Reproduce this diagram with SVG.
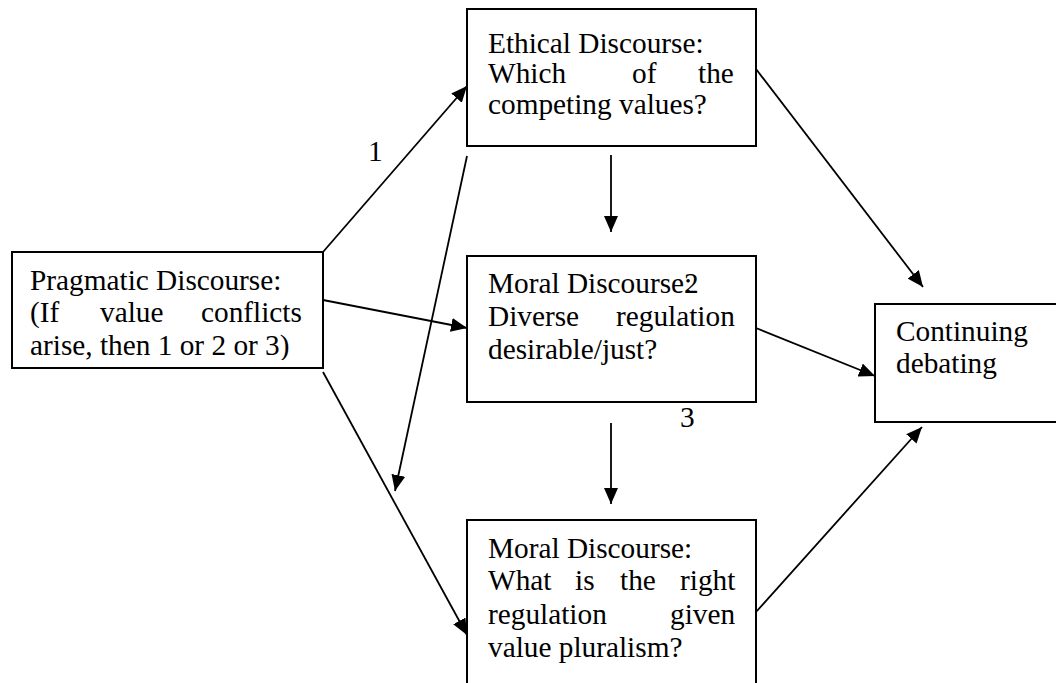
<svg xmlns="http://www.w3.org/2000/svg" width="1056" height="683" viewBox="0 0 1056 683">
<style>
.box{fill:#fff;stroke:#000;stroke-width:2}
.t{font-family:"Liberation Serif","Times New Roman",serif;font-size:29.3px;fill:#000}
.c line{stroke:#000;stroke-width:1.8;marker-end:url(#ah)}
</style>
<defs>
<marker id="ah" markerUnits="userSpaceOnUse" markerWidth="16" markerHeight="14" viewBox="0 0 16 14" refX="16" refY="7" orient="auto">
<path d="M0,0 L16,7 L0,14 z" fill="#000"/>
</marker>
<clipPath id="clipP"><rect x="12" y="252" width="311" height="108"/></clipPath>
</defs>
<rect width="1056" height="683" fill="#fff"/>
<g id="pragmatic">
<rect class="box" x="12" y="252" width="311" height="116"/>
<g clip-path="url(#clipP)">
<text class="t" x="30" y="290">Pragmatic Discourse:</text>
<text class="t" y="322"><tspan x="30">(If</tspan><tspan x="100">value</tspan><tspan x="201">conflicts</tspan></text>
<text class="t" x="30" y="355">arise, then 1 or 2 or 3)</text>
</g>
</g>
<g id="ethical">
<rect class="box" x="467" y="9" width="289" height="137"/>
<text class="t" x="488" y="53">Ethical Discourse:</text>
<text class="t" y="83"><tspan x="488">Which</tspan><tspan x="632">of</tspan><tspan x="698">the</tspan></text>
<text class="t" x="488" y="114">competing values?</text>
</g>
<g id="moral1">
<rect class="box" x="467" y="256" width="289" height="146"/>
<text class="t" x="488" y="293">Moral Discourse:</text>
<text class="t" y="326"><tspan x="488">Diverse</tspan><tspan x="616">regulation</tspan></text>
<text class="t" x="488" y="359">desirable/just?</text>
</g>
<g id="moral2">
<rect class="box" x="467" y="520" width="289" height="200"/>
<text class="t" x="488" y="558">Moral Discourse:</text>
<text class="t" y="590"><tspan x="488">What</tspan><tspan x="575">is</tspan><tspan x="620">the</tspan><tspan x="680">right</tspan></text>
<text class="t" y="624"><tspan x="488">regulation</tspan><tspan x="670">given</tspan></text>
<text class="t" x="488" y="657">value pluralism?</text>
</g>
<g id="continuing">
<rect class="box" x="875" y="304" width="200" height="118"/>
<text class="t" x="896" y="341">Continuing</text>
<text class="t" x="896" y="373">debating</text>
</g>
<g id="labels">
<text class="t" x="368" y="161">1</text>
<text class="t" x="684" y="293">2</text>
<text class="t" x="680" y="427">3</text>
</g>
<g id="connectors" class="c">
<line x1="323" y1="252" x2="467" y2="86"/>
<line x1="323" y1="300" x2="467" y2="328"/>
<line x1="323" y1="372" x2="467" y2="635"/>
<line x1="467" y1="156" x2="395" y2="491"/>
<line x1="611" y1="155" x2="611" y2="232"/>
<line x1="611" y1="423" x2="611" y2="504"/>
<line x1="756" y1="69" x2="923" y2="287"/>
<line x1="756" y1="328" x2="875" y2="376"/>
<line x1="756" y1="612" x2="922" y2="427"/>
</g>
</svg>
